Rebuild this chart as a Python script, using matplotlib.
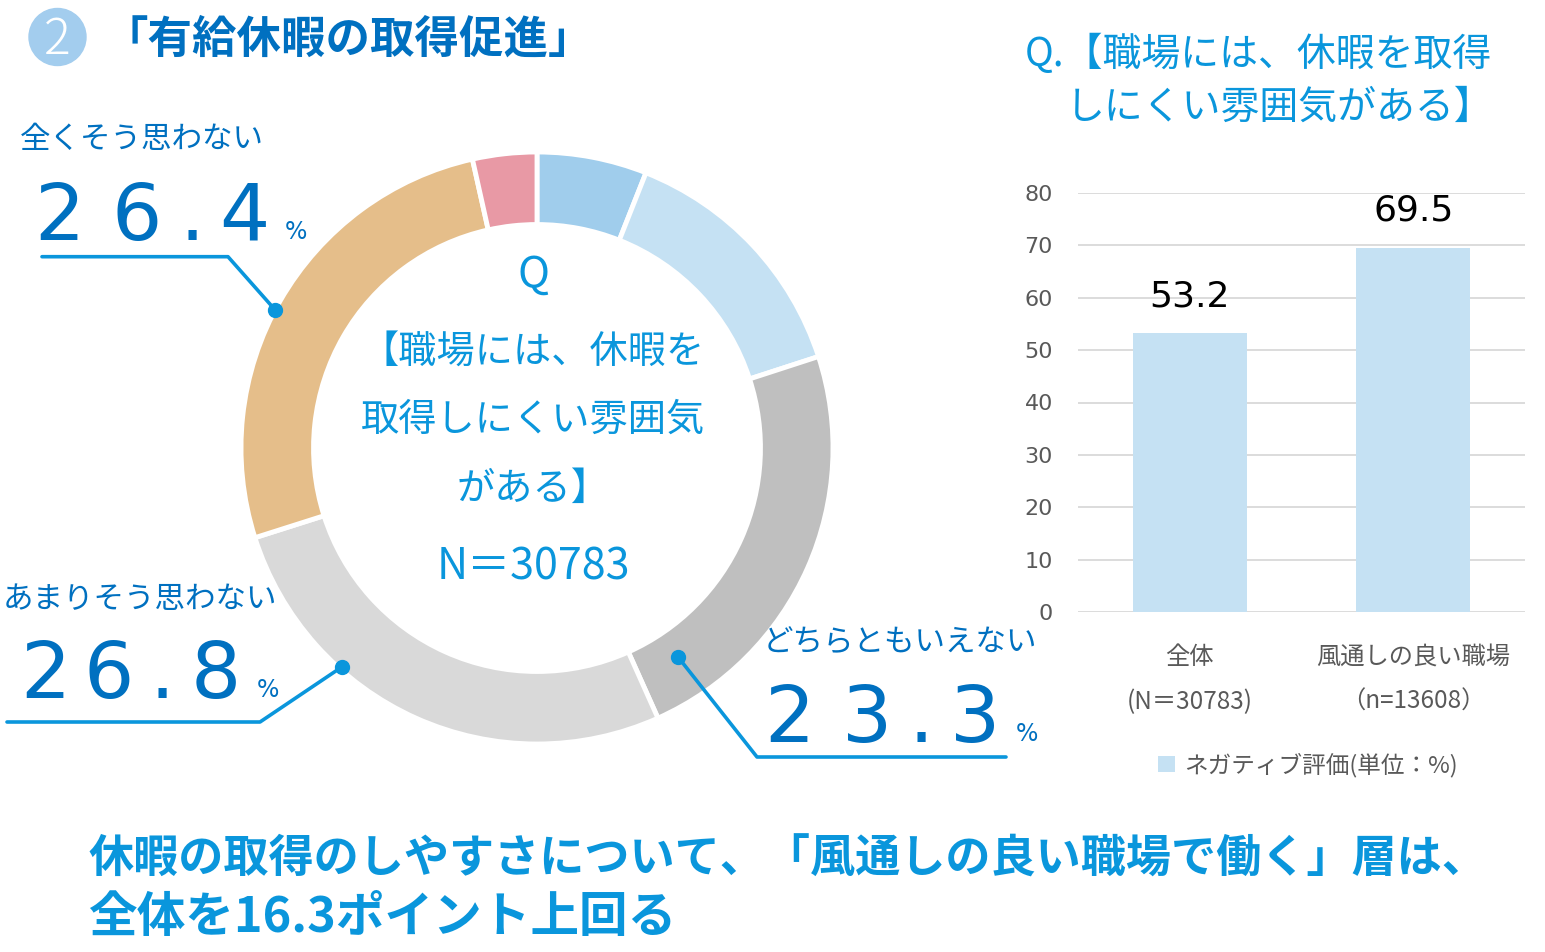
import numpy as np
import matplotlib
matplotlib.use('Agg')
import matplotlib.pyplot as plt
from matplotlib.patches import Circle

plt.rcParams['font.family'] = ['Noto Sans CJK JP', 'DejaVu Sans']

# ドーナツ（%）: 12時から時計回り
answers = ['とてもそう思う', 'ややそう思う', 'どちらともいえない',
           'あまりそう思わない', '全くそう思わない', '無回答']
shares = [6.0, 14.0, 23.3, 26.8, 26.4, 3.5]
ring_colors = ['#A0CDEC', '#C5E1F3', '#BFBFBF', '#D9D9D9', '#E5BE8A', '#E899A5']

# 棒グラフ
groups = ['全体\n(N＝30783)', '風通しの良い職場\n（n=13608）']
negative = [53.2, 69.5]
legend_label = 'ネガティブ評価(単位：%)'

center_lines = ['Q', '【職場には、休暇を', '取得しにくい雰囲気', 'がある】', 'N＝30783']

DARK = '#0070C0'
BRIGHT = '#0A96DC'
GRAY = '#595959'
W, H = 1545, 952

fig = plt.figure(figsize=(W / 100, H / 100), dpi=100)

# 全体に重ねる座標系（ピクセル）
ov = fig.add_axes([0, 0, 1, 1])
ov.set_xlim(0, W)
ov.set_ylim(H, 0)
ov.axis('off')
ov.set_zorder(10)

# ドーナツ
cx, cy, R = 537, 448, 296
ax_pie = fig.add_axes([(cx - R) / W, (H - cy - R) / H, 2 * R / W, 2 * R / H])
ax_pie.pie(shares, colors=ring_colors, startangle=90, counterclock=False,
           radius=1, wedgeprops=dict(width=0.245, edgecolor='white', linewidth=3.5))
ax_pie.set_xlim(-1, 1)
ax_pie.set_ylim(-1, 1)
ax_pie.set_aspect('equal')
ax_pie.axis('off')
ax_pie.apply_aspect()

for txt, y in zip(center_lines, [276, 352, 420, 489, 568]):
    fs = 31 if txt.isascii() or txt.startswith('N') else 27.5
    ov.text(533, y, txt, ha='center', va='center', fontsize=fs, color=BRIGHT)

# 吹き出し（数値は shares から、1文字ずつ配置）
callouts = [
    # idx, label xy, digit centers x, baseline y, % x, line points, dot angle, dot r
    (4, (20, 140), [59.6, 137, 192, 244.5], 240, 296,
     [(42, 256.7), (228, 256.7)], 297.8, 1.0),
    (3, (3, 599), [45, 109, 162, 216], 698, 268,
     [(7, 722), (260, 722)], 221.7, 0.99),
    (2, (763, 643), [789.7, 867, 921, 975], 742, 1027,
     [(1006, 757), (757, 757)], 146.0, 0.85),
]
inv = ov.transData.inverted()
for idx, lab, xs_num, y_base, pct_x, pts, ang, r in callouts:
    ov.text(lab[0], lab[1], answers[idx], ha='left', va='center', fontsize=22,
            color=DARK)
    for ch, xc in zip(f'{shares[idx]:.1f}', xs_num):
        ov.text(xc, y_base, ch, ha='center', va='baseline', fontsize=57,
                family='DejaVu Sans', color=DARK)
    ov.text(pct_x, y_base - 1, '%', ha='center', va='baseline', fontsize=17,
            family='DejaVu Sans', color=DARK)
    th = np.deg2rad(90 - ang)
    dot = inv.transform(ax_pie.transData.transform((r * np.cos(th), r * np.sin(th))))
    xs = [p[0] for p in pts] + [dot[0]]
    ys = [p[1] for p in pts] + [dot[1]]
    ov.plot(xs, ys, color=BRIGHT, lw=2.6, solid_capstyle='round')
    ov.plot(dot[0], dot[1], 'o', color=BRIGHT, ms=10)

# 見出し
ov.add_patch(Circle((57.5, 37), 28.5, color='#A3CDEE'))
ov.text(57.5, 40, '2', ha='center', va='center', fontsize=36, color='white',
        fontweight='light')
ov.text(104, 40, '「有給休暇の取得促進」', ha='left', va='center', fontsize=32,
        fontweight='bold', color=DARK)

# 棒グラフ
ax = fig.add_axes([1078 / W, (H - 612) / H, 447 / W, 419 / H])
x = np.arange(len(negative))
bars = ax.bar(x, negative, width=0.51, color='#C5E1F3', zorder=2)
for xi, v in zip(x, negative):
    ax.text(xi, v + 5.2, f'{v}', ha='center', va='baseline', fontsize=26,
            family='DejaVu Sans', color='black')
ax.set_xlim(-0.5, 1.5)
ax.set_ylim(0, 80)
ax.set_yticks(range(0, 81, 10))
ax.grid(axis='y', color='#D9D9D9', lw=1.3, zorder=0)
for s in ax.spines.values():
    s.set_visible(False)
ax.tick_params(axis='y', length=0, pad=18, labelsize=16, labelcolor=GRAY)
for t in ax.get_yticklabels():
    t.set_family('DejaVu Sans')
ax.set_xticks(x)
ax.set_xticklabels(groups, fontsize=17.5, color=GRAY, linespacing=1.95)
ax.tick_params(axis='x', length=0, pad=23)

fig.legend([bars], [legend_label], loc='center',
           bbox_to_anchor=(1308 / W, 1 - 765 / H), frameon=False, fontsize=17,
           labelcolor=GRAY, handlelength=0.7, handleheight=0.7, handletextpad=0.4)

ov.text(1025, 55, 'Q.【職場には、休暇を取得', ha='left', va='center',
        fontsize=28, color=BRIGHT)
ov.text(1280, 108, 'しにくい雰囲気がある】', ha='center', va='center',
        fontsize=28, color=BRIGHT)

# まとめ
ov.text(88, 860, '休暇の取得のしやすさについて、「風通しの良い職場で働く」層は、',
        ha='left', va='center', fontsize=32.5, fontweight='bold', color=BRIGHT)
ov.text(88, 918, '全体を16.3ポイント上回る', ha='left', va='center',
        fontsize=35, fontweight='bold', color=BRIGHT)

fig.savefig('out.png', dpi=100)
